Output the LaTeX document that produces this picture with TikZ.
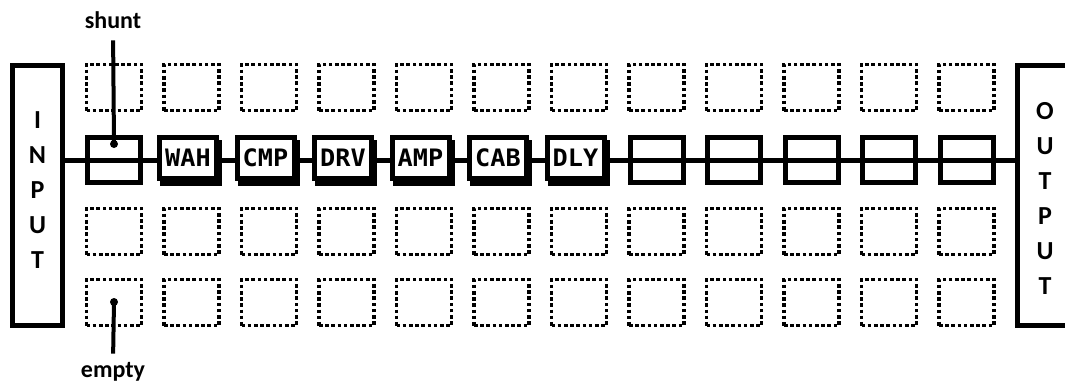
\documentclass[tikz,border=0pt]{standalone}
\usepackage{fontspec}
\setmainfont{Carlito}
\newfontfamily\pixfont{DejaVu Sans Mono}[FakeStretch=1.05]
\usetikzlibrary{shadows}
\begin{document}
\begin{tikzpicture}[x=1bp,y=-1bp,
 io/.style={draw, line width=5bp, rectangle, inner sep=0pt, minimum width=50bp, minimum height=260bp},
 iotext/.style={font=\fontsize{26bp}{35bp}\selectfont\bfseries, align=center, inner sep=0pt},
 dotbox/.style={draw, line width=3.8bp, dash pattern=on 3.6bp off 2.6bp, minimum width=55bp, minimum height=46bp, inner sep=0pt},
 slot/.style={draw, line width=5bp, minimum width=53bp, minimum height=45bp, inner sep=0pt},
 fx/.style={draw, line width=5bp, fill=white, minimum width=57bp, minimum height=41bp, inner sep=0pt,
   text height=17bp, text depth=0pt,
   font=\pixfont\bfseries\fontsize{24bp}{24bp}\selectfont,
   drop shadow={shadow xshift=3bp, shadow yshift=-5bp, fill=black, draw=black, line width=5bp, opacity=1}},
 wire/.style={line width=5bp},
 lead/.style={line width=4bp},
 pin/.style={circle, fill=black, inner sep=0pt, minimum size=8bp},
 lbl/.style={font=\fontsize{24bp}{28bp}\selectfont\bfseries, inner sep=0pt}
]
\useasboundingbox (0,0) rectangle (1065,383);
\clip (0,0) rectangle (1065,383);
\fill[white] (0,0) rectangle (1065,383);

\node[io] (in) at (37.5,195.5) {};
\node[iotext] (intext) at (37.5,190) {I\\N\\P\\U\\T};
\node[io, minimum width=55bp] (out) at (1045,195.5) {};
\node[iotext] (outtext) at (1045,198) {O\\U\\T\\P\\U\\T};

\foreach \c in {0,...,11} {
  \pgfmathsetmacro\cx{114+77.5*\c}
  \node[dotbox] (t\c) at (\cx,87.5) {};
  \node[dotbox] (b\c) at (\cx,231.5) {};
  \node[dotbox] (e\c) at (\cx,302.5) {};
}

\node[slot] (s0) at (114,160) {};
\foreach \c in {7,...,11} {
  \pgfmathsetmacro\cx{114+77.5*\c}
  \node[slot] (s\c) at (\cx,160) {};
}

\draw[wire] (in.east |- s0.center) -- (out.west |- s0.center);

\foreach \c/\t in {1/WAH,2/CMP,3/DRV,4/AMP,5/CAB,6/DLY} {
  \pgfmathsetmacro\cx{114+77.5*\c-3.5}
  \node[fx] (f\c) at (\cx,158) {\t};
}

\node[pin] (sp) at (114,144) {};
\node[lbl, anchor=base] (shunt) at (113,28) {shunt};
\draw[lead, shorten <=12bp] (shunt.south) -- (sp.center);

\node[pin] (ep) at (114,302) {};
\node[lbl, anchor=base] (empty) at (113,377) {empty};
\draw[lead, shorten >=8bp] (ep.center) -- (empty.north);
\end{tikzpicture}
\end{document}
